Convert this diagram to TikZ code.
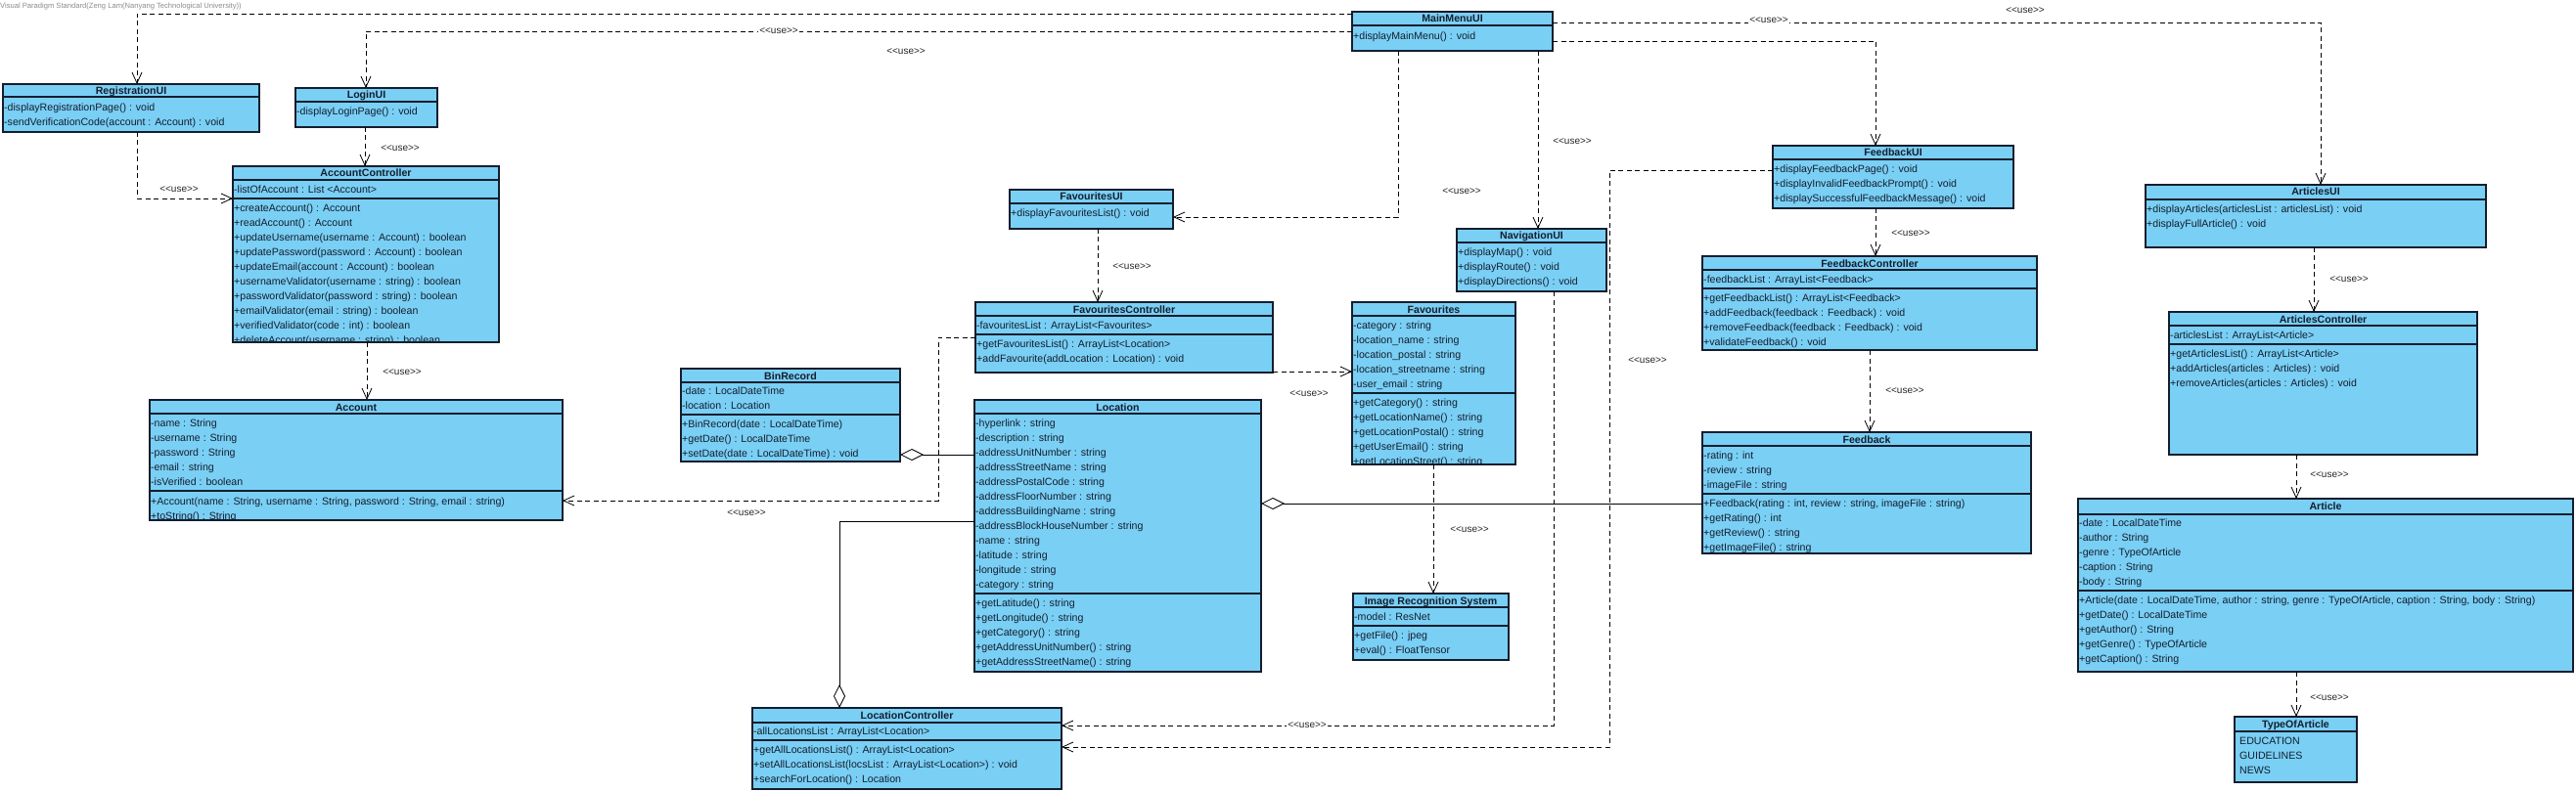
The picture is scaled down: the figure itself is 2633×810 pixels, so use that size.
\documentclass[tikz,border=0pt]{standalone}
\usepackage{fontspec}
\setmainfont{Liberation Sans}[Ligatures=TeXOff]
\usetikzlibrary{arrows.meta}
\definecolor{clsfill}{RGB}{122,207,245}
\definecolor{linec}{RGB}{20,30,45}
\tikzset{
  cls/.style={rectangle, draw=linec, fill=clsfill, line width=1.1pt, inner sep=0pt, outer sep=0pt},
  ttl/.style={font=\fontsize{10.6}{12}\selectfont\bfseries, inner sep=0pt, anchor=base, text=linec},
  row/.style={font=\fontsize{10.6}{12}\selectfont, inner sep=0pt, anchor=base west, text=linec},
  cline/.style={draw=linec, line width=1.1pt},
  dep/.style={line width=0.8pt, dash pattern=on 5pt off 3.5pt, -{Straight Barb[length=11pt,width=10pt,line width=0.8pt]}},
  agg/.style={line width=0.8pt, -{Diamond[open,length=24pt,width=12pt,line width=0.8pt]}},
  lbl/.style={font=\fontsize{10}{12}\selectfont, inner sep=1.5pt, text=black!85},
}
% box: name, x1, y1, x2, y2, title
\newcommand\cbox[6]{%
  \node[cls, minimum width={(#4)-(#2)}, minimum height={(#5)-(#3)}, anchor=north west] (#1) at (#2,#3) {};
  \node[ttl] (#1t) at ({((#2)+(#4))/2},{(#3)+11}) {#6};
}
% separator: name, y
\newcommand\csep[2]{\draw[cline] (#1.west |- 0,#2) -- (#1.east |- 0,#2);}
% rows: name, x, first y, list
\newcommand\crows[4]{%
  \begin{scope}
    \clip (#1.south west) rectangle (#1.north east);
    \foreach \rowtext [count=\i from 0] in {#4} {
      \node[row] (#1r#3x\i) at ({#2},{(#3)+15*\i+3.8}) {\rowtext};
    }
  \end{scope}
}
\begin{document}
\begin{tikzpicture}[x=1pt,y=-1pt]
\useasboundingbox (0,0) rectangle (2633,810);
\fill[white] (0,0) rectangle (2633,810);
\node[font=\fontsize{7.6}{9}\selectfont, text=black!45, anchor=west, inner sep=0pt] (vp) at (0,7) {Visual Paradigm Standard(Zeng Lam(Nanyang Technological University))};

% ---------- classes ----------
\cbox{reg}{3}{86}{265}{135}{RegistrationUI}
\csep{reg}{99}
\crows{reg}{4}{110}{-displayRegistrationPage() : void, -sendVerificationCode(account : Account) : void}

\cbox{login}{302}{90}{447}{130}{LoginUI}
\csep{login}{104}
\crows{login}{303}{114}{-displayLoginPage() : void}

\cbox{acc}{238}{170}{510}{350}{AccountController}
\csep{acc}{184}
\crows{acc}{239}{194}{-listOfAccount : List <Account>}
\csep{acc}{203}
\crows{acc}{239}{213}{+createAccount() : Account, +readAccount() : Account, +updateUsername(username : Account) : boolean, +updatePassword(password : Account) : boolean, +updateEmail(account : Account) : boolean, +usernameValidator(username : string) : boolean, +passwordValidator(password : string) : boolean, +emailValidator(email : string) : boolean, +verifiedValidator(code : int) : boolean, +deleteAccount(username : string) : boolean}

\cbox{account}{153}{409}{575}{532}{Account}
\csep{account}{423}
\crows{account}{154}{433}{-name : String, -username : String, -password : String, -email : string, -isVerified : boolean}
\csep{account}{502}
\crows{account}{154}{513}{{+Account(name : String, username : String, password : String, email : string)}, +toString() : String}

\cbox{mm}{1382}{12}{1587}{52}{MainMenuUI}
\csep{mm}{26}
\crows{mm}{1383}{37}{+displayMainMenu() : void}

\cbox{favui}{1032}{194}{1199}{234}{FavouritesUI}
\csep{favui}{208}
\crows{favui}{1033}{218}{+displayFavouritesList() : void}

\cbox{favc}{997}{309}{1301}{381}{FavouritesController}
\csep{favc}{323}
\crows{favc}{998}{333}{-favouritesList : ArrayList<Favourites>}
\csep{favc}{342}
\crows{favc}{998}{352}{+getFavouritesList() : ArrayList<Location>, +addFavourite(addLocation : Location) : void}

\cbox{bin}{696}{377}{920}{472}{BinRecord}
\csep{bin}{391}
\crows{bin}{697}{400}{-date : LocalDateTime, -location : Location}
\csep{bin}{424}
\crows{bin}{697}{434}{+BinRecord(date : LocalDateTime), +getDate() : LocalDateTime, +setDate(date : LocalDateTime) : void}

\cbox{loc}{996}{409}{1289}{687}{Location}
\csep{loc}{423}
\crows{loc}{997}{433}{-hyperlink : string, -description : string, -addressUnitNumber : string, -addressStreetName : string, -addressPostalCode : string, -addressFloorNumber : string, -addressBuildingName : string, -addressBlockHouseNumber : string, -name : string, -latitude : string, -longitude : string, -category : string}
\csep{loc}{607}
\crows{loc}{997}{617}{+getLatitude() : string, +getLongitude() : string, +getCategory() : string, +getAddressUnitNumber() : string, +getAddressStreetName() : string}

\cbox{locc}{769}{724}{1085}{807}{LocationController}
\csep{locc}{739}
\crows{locc}{770}{748}{-allLocationsList : ArrayList<Location>}
\csep{locc}{757}
\crows{locc}{770}{767}{+getAllLocationsList() : ArrayList<Location>, +setAllLocationsList(locsList : ArrayList<Location>) : void, +searchForLocation() : Location}

\cbox{fav}{1382}{309}{1549}{475}{Favourites}
\csep{fav}{323}
\crows{fav}{1383}{333}{-category : string, -location\_name : string, -location\_postal : string, -location\_streetname : string, -user\_email : string}
\csep{fav}{402}
\crows{fav}{1383}{412}{+getCategory() : string, +getLocationName() : string, +getLocationPostal() : string, +getUserEmail() : string, +getLocationStreet() : string}

\cbox{nav}{1489}{234}{1642}{298}{NavigationUI}
\csep{nav}{248}
\crows{nav}{1490}{258}{+displayMap() : void, +displayRoute() : void, +displayDirections() : void}

\cbox{irs}{1383}{607}{1542}{675}{Image Recognition System}
\csep{irs}{621}
\crows{irs}{1384}{631}{-model : ResNet}
\csep{irs}{640}
\crows{irs}{1384}{650}{+getFile() : jpeg, +eval() : FloatTensor}

\cbox{fbui}{1812}{149}{2058}{213}{FeedbackUI}
\csep{fbui}{163}
\crows{fbui}{1813}{173}{+displayFeedbackPage() : void, +displayInvalidFeedbackPrompt() : void, +displaySuccessfulFeedbackMessage() : void}

\cbox{fbc}{1740}{262}{2082}{358}{FeedbackController}
\csep{fbc}{276}
\crows{fbc}{1741}{286}{-feedbackList : ArrayList<Feedback>}
\csep{fbc}{295}
\crows{fbc}{1741}{305}{+getFeedbackList() : ArrayList<Feedback>, +addFeedback(feedback : Feedback) : void, +removeFeedback(feedback : Feedback) : void, +validateFeedback() : void}

\cbox{fb}{1740}{442}{2076}{566}{Feedback}
\csep{fb}{456}
\crows{fb}{1741}{466}{-rating : int, -review : string, -imageFile : string}
\csep{fb}{505}
\crows{fb}{1741}{515}{{+Feedback(rating : int, review : string, imageFile : string)}, +getRating() : int, +getReview() : string, +getImageFile() : string}

\cbox{artui}{2193}{189}{2541}{253}{ArticlesUI}
\csep{artui}{204}
\crows{artui}{2194}{214}{+displayArticles(articlesList : articlesList) : void, +displayFullArticle() : void}

\cbox{artc}{2217}{319}{2532}{465}{ArticlesController}
\csep{artc}{333}
\crows{artc}{2218}{343}{-articlesList : ArrayList<Article>}
\csep{artc}{352}
\crows{artc}{2218}{362}{+getArticlesList() : ArrayList<Article>, +addArticles(articles : Articles) : void, +removeArticles(articles : Articles) : void}

\cbox{art}{2124}{510}{2630}{687}{Article}
\csep{art}{526}
\crows{art}{2125}{535}{-date : LocalDateTime, -author : String, -genre : TypeOfArticle, -caption : String, -body : String}
\csep{art}{604}
\crows{art}{2125}{614}{{+Article(date : LocalDateTime, author : string, genre : TypeOfArticle, caption : String, body : String)}, +getDate() : LocalDateTime, +getAuthor() : String, +getGenre() : TypeOfArticle, +getCaption() : String}

\cbox{toa}{2284}{733}{2409}{800}{TypeOfArticle}
\csep{toa}{748}
\crows{toa}{2289}{758}{EDUCATION, GUIDELINES, NEWS}

% ---------- connectors ----------
\draw[dep] (mm.west |- 0,14) -| (reg.north -| 140,0);
\node[lbl] (u1) at (926,53) {<<use>>};
\draw[dep] (mm.west |- 0,32) -| (login.north -| 374,0);
\node[lbl, fill=white] (u2) at (796,32) {<<use>>};
\draw[dep] (login.south -| 373,0) -- (acc.north -| 373,0);
\node[lbl] (u3) at (409,152) {<<use>>};
\draw[dep] (reg.south -| 140,0) |- (acc.west |- 0,203);
\node[lbl] (u4) at (183,194) {<<use>>};
\draw[dep] (acc.south -| 375,0) -- (account.north -| 375,0);
\node[lbl] (u5) at (411,381) {<<use>>};
\draw[dep] (favc.west |- 0,345) -- ++(-38,0) |- (account.east |- 0,512);
\node[lbl] (u6) at (763,525) {<<use>>};
\draw[dep] (mm.south -| 1429,0) |- (favui.east |- 0,222);
\node[lbl] (u7) at (1494,196) {<<use>>};
\draw[dep] (mm.south -| 1572,0) -- (nav.north -| 1572,0);
\node[lbl] (u8) at (1607,145) {<<use>>};
\draw[dep] (mm.east |- 0,42) -| (fbui.north -| 1917,0);
\draw[dep] (mm.east |- 0,23) -| (artui.north -| 2372,0);
\node[lbl, fill=white] (u9) at (1808,21) {<<use>>};
\node[lbl] (u10) at (2070,11) {<<use>>};
\draw[dep] (favui.south -| 1122,0) -- (favc.north -| 1122,0);
\node[lbl] (u11) at (1157,273) {<<use>>};
\draw[dep] (favc.east |- 0,380) -- (fav.west |- 0,380);
\node[lbl] (u12) at (1338,403) {<<use>>};
\draw[dep] (fav.south -| 1465,0) -- (irs.north -| 1465,0);
\node[lbl] (u13) at (1502,542) {<<use>>};
\draw[dep] (nav.south -| 1588,0) |- (locc.east |- 0,742);
\node[lbl, fill=white] (u14) at (1336,742) {<<use>>};
\draw[dep] (fbui.west |- 0,174) -- ++(-167,0) |- (locc.east |- 0,764);
\node[lbl] (u15) at (1684,369) {<<use>>};
\draw[dep] (fbui.south -| 1917,0) -- (fbc.north -| 1917,0);
\node[lbl] (u16) at (1953,239) {<<use>>};
\draw[dep] (fbc.south -| 1911,0) -- (fb.north -| 1911,0);
\node[lbl] (u17) at (1947,400) {<<use>>};
\draw[dep] (artui.south -| 2365,0) -- (artc.north -| 2365,0);
\node[lbl] (u18) at (2401,286) {<<use>>};
\draw[dep] (artc.south -| 2347,0) -- (art.north -| 2347,0);
\node[lbl] (u19) at (2381,486) {<<use>>};
\draw[dep] (art.south -| 2347,0) -- (toa.north -| 2347,0);
\node[lbl] (u20) at (2381,714) {<<use>>};
\draw[agg] (fb.west |- 0,515) -- (loc.east |- 0,515);
\draw[agg] (loc.west |- 0,465) -- (bin.east |- 0,465);
\draw[agg] (loc.west |- 0,533) -| (locc.north -| 858,0);
\end{tikzpicture}
\end{document}
